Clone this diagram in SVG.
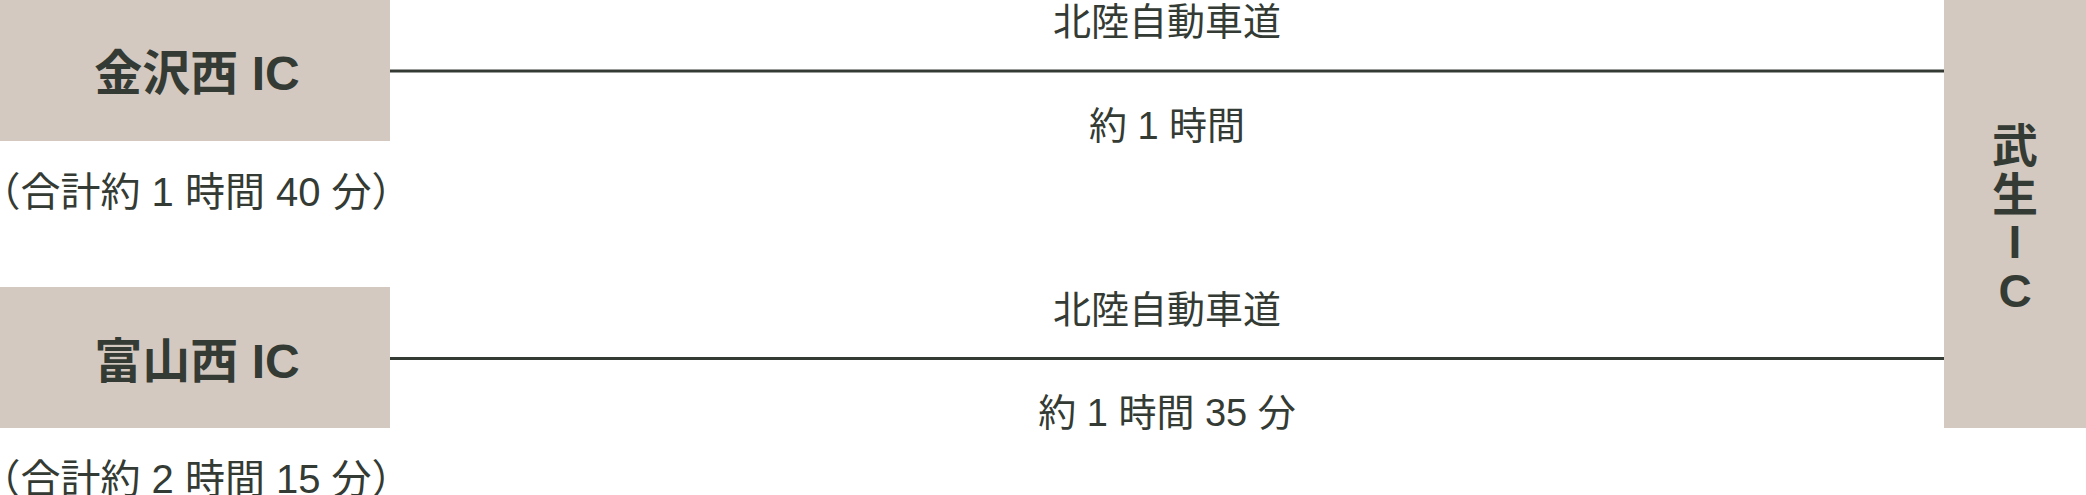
<svg xmlns="http://www.w3.org/2000/svg" width="2086" height="495" viewBox="0 0 2086 495">
<style>
.box{fill:#d4c9c0}
.lbl{font-family:"Liberation Sans","Noto Sans CJK JP",sans-serif;font-weight:700;fill:#343b34;text-anchor:middle}
.txt{font-family:"Liberation Sans","Noto Sans CJK JP",sans-serif;font-weight:400;fill:#343b34;text-anchor:middle}
.road{stroke:#343b34;stroke-width:3;fill:none}
</style>
<rect width="2086" height="495" fill="#ffffff"/>
<g id="connectors">
<line class="road" x1="390" y1="71" x2="1944" y2="71"/>
<line class="road" x1="390" y1="358.5" x2="1944" y2="358.5"/>
<text class="txt" x="1167" y="35" font-size="38">北陸自動車道</text>
<text class="txt" x="1167" y="139" font-size="38">約 1 時間</text>
<text class="txt" x="1167" y="323" font-size="38">北陸自動車道</text>
<text class="txt" x="1167" y="426" font-size="38">約 1 時間 35 分</text>
</g>
<g id="kanazawa">
<rect class="box" x="0" y="0" width="390" height="141"/>
<text class="lbl" x="197" y="90" font-size="48">金沢西 IC</text>
<text class="txt" x="196" y="206" font-size="40">（合計約 1 時間 40 分）</text>
</g>
<g id="toyama">
<rect class="box" x="0" y="287" width="390" height="141"/>
<text class="lbl" x="197" y="378" font-size="48">富山西 IC</text>
<text class="txt" x="196" y="493" font-size="40">（合計約 2 時間 15 分）</text>
</g>
<g id="takefu">
<rect class="box" x="1944" y="0" width="142" height="428"/>
<text class="lbl" font-size="46"><tspan x="2015" y="162">武</tspan><tspan x="2015" y="211">生</tspan><tspan x="2015" y="258">I</tspan><tspan x="2015" y="307">C</tspan></text>
</g>
</svg>
